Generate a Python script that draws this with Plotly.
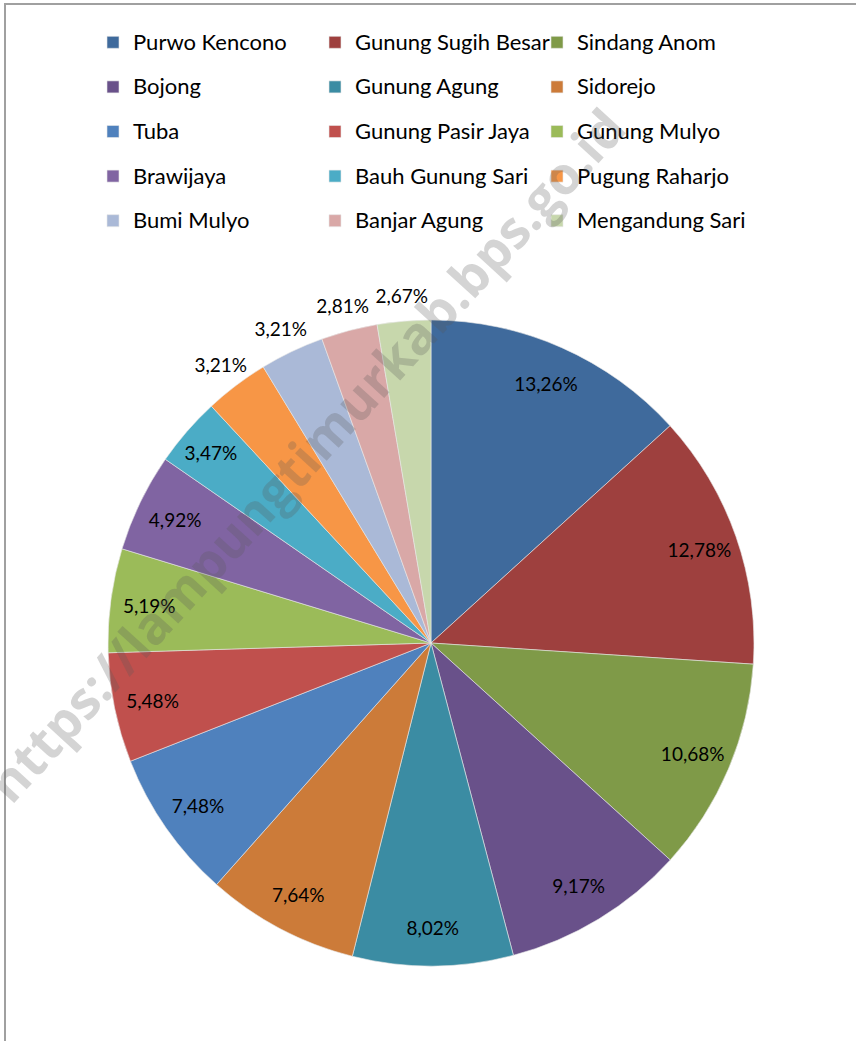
import plotly.graph_objects as go

villages = ["Purwo Kencono", "Gunung Sugih Besar", "Sindang Anom", "Bojong", "Gunung Agung",
            "Sidorejo", "Tuba", "Gunung Pasir Jaya", "Gunung Mulyo", "Brawijaya",
            "Bauh Gunung Sari", "Pugung Raharjo", "Bumi Mulyo", "Banjar Agung", "Mengandung Sari"]
shares = [13.26, 12.78, 10.68, 9.17, 8.02, 7.64, 7.48, 5.48, 5.19, 4.92, 3.47, 3.21, 3.21, 2.81, 2.67]
colors = ["#3F6A9C", "#9E403E", "#7F9A48", "#69518A", "#3B8CA3", "#CC7B39",
          "#4F81BD", "#C0504D", "#9BBB59", "#8064A2", "#4BACC6", "#F79646",
          "#AAB9D7", "#D9A8A7", "#C7D7AC"]
outside_label = [False] * 11 + [True] * 4

W, H = 856, 1041
cx, cy, r = 431, 643, 323


def domain(radius):
    return dict(x=[(cx - radius) / W, (cx + radius) / W],
                y=[(H - cy - radius) / H, (H - cy + radius) / H])


label_font = dict(family="Lato", size=19, color="black")
legend_names = [f'<span style="font-size:22px;baseline-shift:5px">{v}</span>' for v in villages]
clear = ["rgba(0,0,0,0)"] * len(shares)

# solid pie
fig = go.Figure(go.Pie(
    labels=legend_names, values=shares, sort=False, direction="clockwise", rotation=0,
    marker=dict(colors=colors, line=dict(color="#E8E8E8", width=0.6)),
    textinfo="none", hoverinfo="label+value", domain=domain(r),
))
# transparent ring: labels of the larger slices, placed near the rim
fig.add_trace(go.Pie(
    labels=legend_names, values=shares, sort=False, direction="clockwise", rotation=0,
    hole=0.76, marker=dict(colors=clear, line=dict(width=0)),
    texttemplate="%{value:.2f}%",
    textposition=["none" if o else "inside" for o in outside_label],
    insidetextorientation="horizontal", textfont=label_font,
    hoverinfo="skip", showlegend=False, domain=domain(r),
))
# transparent outer ring: labels of the small slices, just outside the rim
fig.add_trace(go.Pie(
    labels=legend_names, values=shares, sort=False, direction="clockwise", rotation=0,
    hole=0.862, marker=dict(colors=clear, line=dict(width=0)),
    texttemplate="%{value:.2f}%",
    textposition=["inside" if o else "none" for o in outside_label],
    insidetextorientation="horizontal", textfont=label_font,
    hoverinfo="skip", showlegend=False, domain=domain(r * 1.16),
))

fig.update_layout(
    width=W, height=H,
    margin=dict(l=0, r=0, t=0, b=0),
    paper_bgcolor="white",
    separators=",.",
    uniformtext=dict(mode="show", minsize=19),
    showlegend=True,
    legend=dict(
        orientation="h",
        x=93 / W, xanchor="left",
        y=1 - 15 / H, yanchor="top",
        entrywidth=177, entrywidthmode="pixels",
        bgcolor="rgba(0,0,0,0)",
        font=dict(family="Lato", size=32, color="black"),
        itemclick=False, itemdoubleclick=False,
    ),
    shapes=[dict(type="rect", xref="paper", yref="paper",
                 x0=5 / W, x1=1.2, y0=-0.2, y1=1 - 4 / H,
                 line=dict(color="#A0A0A0", width=2), fillcolor="rgba(0,0,0,0)", layer="above")],
    annotations=[dict(text="<b>https://lampungtimurkab.bps.go.id</b>", xref="paper", yref="paper",
                      x=305 / W, y=1 - 455 / H, showarrow=False, textangle=-47.6,
                      font=dict(family="Open Sans", size=52, color="rgba(90,90,90,0.26)"),
                      )],
)

fig.write_html("out.html", config={"displayModeBar": False},
               post_script="document.body.style.margin='0';")
